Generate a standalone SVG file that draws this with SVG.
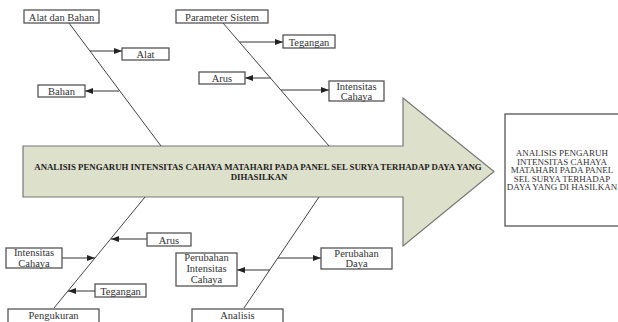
<svg xmlns="http://www.w3.org/2000/svg" width="618" height="322" viewBox="0 0 618 322">
<style>
.box{fill:#fff;stroke:#555;stroke-width:1.3}
.t{font-family:"Liberation Serif","Times New Roman",serif;font-size:10.5px;fill:#333;text-anchor:middle}
.tb{font-family:"Liberation Serif","Times New Roman",serif;font-size:8.8px;font-weight:bold;fill:#222;text-anchor:middle}
.tr{font-family:"Liberation Serif","Times New Roman",serif;font-size:9px;fill:#333;text-anchor:middle}
.bone{stroke:#444;stroke-width:1;fill:none}
.arr{stroke:#333;stroke-width:1;fill:none;marker-end:url(#ah)}
</style>
<defs>
<marker id="ah" markerUnits="userSpaceOnUse" markerWidth="9" markerHeight="6" refX="8" refY="3" orient="auto">
<path d="M0,0 L8,3 L0,6 z" fill="#222"/>
</marker>
</defs>
<rect width="618" height="322" fill="#fff"/>

<g id="main-arrow">
<path d="M23,146 L403,146 L403,98 L494,171.5 L403,246 L403,197 L23,197 Z" fill="#dde0cb" stroke="#777" stroke-width="1.2"/>
<text class="tb" x="258" y="170">ANALISIS PENGARUH INTENSITAS CAHAYA MATAHARI PADA PANEL SEL SURYA TERHADAP DAYA YANG</text>
<text class="tb" x="259" y="180">DIHASILKAN</text>
</g>

<g id="result">
<rect class="box" x="505" y="114" width="116" height="112"/>
<text class="tr" x="562" y="156">ANALISIS PENGARUH</text>
<text class="tr" x="562" y="164.5">INTENSITAS CAHAYA</text>
<text class="tr" x="562" y="173">MATAHARI PADA PANEL</text>
<text class="tr" x="562" y="181.5">SEL SURYA TERHADAP</text>
<text class="tr" x="562" y="190">DAYA YANG DI HASILKAN</text>
</g>

<g id="connectors">
<line class="bone" x1="69" y1="23" x2="161" y2="146"/>
<line class="bone" x1="223" y1="23" x2="329" y2="146"/>
<line class="bone" x1="54" y1="308" x2="145" y2="197"/>
<line class="bone" x1="244" y1="308" x2="319" y2="197"/>
<line class="arr" x1="90" y1="51" x2="122" y2="51"/>
<line class="arr" x1="119" y1="91" x2="85" y2="91"/>
<line class="arr" x1="239.5" y1="42" x2="283" y2="42"/>
<line class="arr" x1="271" y1="78" x2="245" y2="78"/>
<line class="arr" x1="281" y1="90" x2="329" y2="90"/>
<line class="arr" x1="147" y1="239" x2="111" y2="239"/>
<line class="arr" x1="62" y1="258" x2="95" y2="258"/>
<line class="arr" x1="95" y1="291" x2="68" y2="291"/>
<line class="arr" x1="270" y1="270" x2="237" y2="270"/>
<line class="arr" x1="278" y1="258" x2="321" y2="258"/>
</g>

<g id="alat-dan-bahan">
<rect class="box" x="24" y="10" width="75" height="13"/>
<text class="t" x="61.5" y="20.5">Alat dan Bahan</text>
</g>
<g id="alat">
<rect class="box" x="122" y="48" width="47" height="12"/>
<text class="t" x="145.5" y="58">Alat</text>
</g>
<g id="bahan">
<rect class="box" x="38" y="85" width="47" height="12"/>
<text class="t" x="61.5" y="95">Bahan</text>
</g>

<g id="parameter-sistem">
<rect class="box" x="176" y="10" width="92" height="13"/>
<text class="t" x="222" y="20.5">Parameter Sistem</text>
</g>
<g id="tegangan-top">
<rect class="box" x="283" y="35" width="52" height="13"/>
<text class="t" x="309" y="45.5">Tegangan</text>
</g>
<g id="arus-top">
<rect class="box" x="199" y="72" width="46" height="12"/>
<text class="t" x="222" y="82">Arus</text>
</g>
<g id="intensitas-top">
<rect class="box" x="329" y="81" width="55" height="20"/>
<text class="t" x="356.5" y="89.5">Intensitas</text>
<text class="t" x="356.5" y="99.5">Cahaya</text>
</g>

<g id="pengukuran">
<rect class="box" x="8" y="309" width="91" height="16"/>
<text class="t" x="53.5" y="318.5">Pengukuran</text>
</g>
<g id="arus-bottom">
<rect class="box" x="147" y="233" width="44" height="13"/>
<text class="t" x="169" y="243.5">Arus</text>
</g>
<g id="intensitas-bottom">
<rect class="box" x="6" y="248" width="56" height="20"/>
<text class="t" x="34" y="255.5">Intensitas</text>
<text class="t" x="34" y="266.5">Cahaya</text>
</g>
<g id="tegangan-bottom">
<rect class="box" x="95" y="284" width="51" height="13"/>
<text class="t" x="120.5" y="294.5">Tegangan</text>
</g>

<g id="analisis">
<rect class="box" x="192" y="309" width="91" height="16"/>
<text class="t" x="237.5" y="318.5">Analisis</text>
</g>
<g id="perubahan-intensitas">
<rect class="box" x="176" y="253" width="61" height="33"/>
<text class="t" x="206.5" y="261">Perubahan</text>
<text class="t" x="206.5" y="272">Intensitas</text>
<text class="t" x="206.5" y="283">Cahaya</text>
</g>
<g id="perubahan-daya">
<rect class="box" x="321" y="248" width="71" height="21"/>
<text class="t" x="356.5" y="256.5">Perubahan</text>
<text class="t" x="356.5" y="266.5">Daya</text>
</g>
</svg>
